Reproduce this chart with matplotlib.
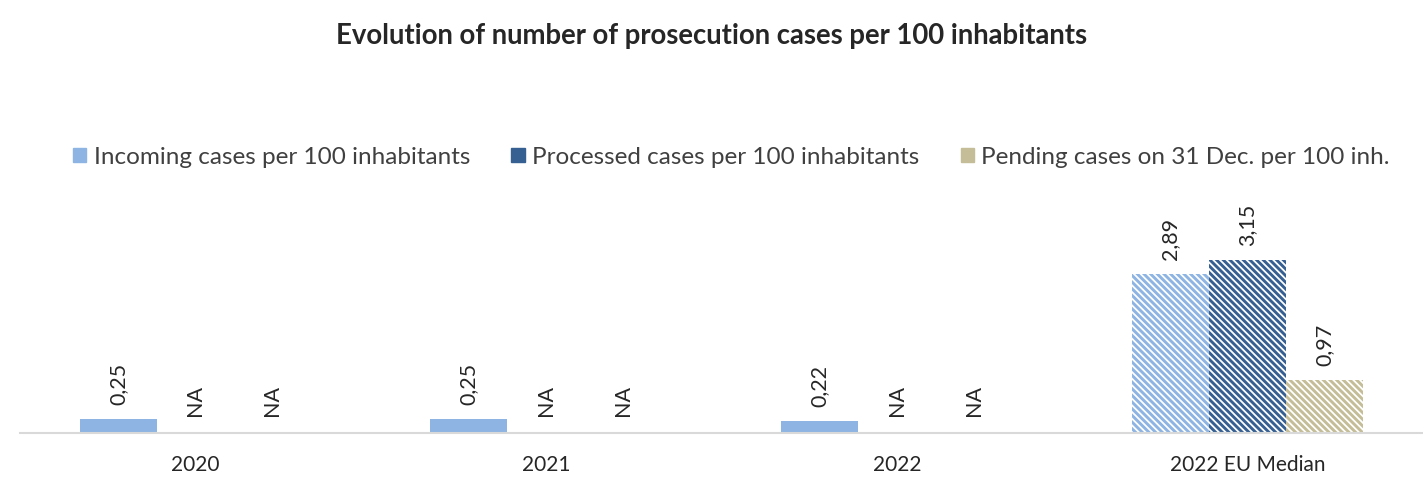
import matplotlib.pyplot as plt
import numpy as np
from matplotlib.patches import Patch

plt.rcParams['font.family'] = ['Lato', 'DejaVu Sans']
plt.rcParams['hatch.linewidth'] = 1.3

groups = ['2020', '2021', '2022', '2022 EU Median']
series = ['Incoming cases per 100 inhabitants',
          'Processed cases per 100 inhabitants',
          'Pending cases on 31 Dec. per 100 inh.']
incoming = [0.25, 0.25, 0.22, 2.89]
processed = [None, None, None, 3.15]
pending = [None, None, None, 0.97]
colors = ['#8DB4E2', '#366092', '#C4BD97']

fig = plt.figure(figsize=(14.23, 4.78), dpi=100)
ax = fig.add_axes([0.014, 0.094, 0.986, 0.46])

x = np.arange(len(groups))
w = 0.22
for i, (vals, col) in enumerate(zip([incoming, processed, pending], colors)):
    pos = x + (i - 1) * w
    for j, v in enumerate(vals):
        if v is None:
            ax.annotate('NA', (pos[j], 0), xytext=(0, 12), textcoords='offset points',
                        rotation=90, ha='center', va='bottom', fontsize=15.5, color='#262626')
            continue
        ax.bar(pos[j], v, w, color=col, lw=0)
        if groups[j].endswith('Median'):
            # white diagonal stripes over the median bars
            ax.bar(pos[j], v, w, facecolor='none', edgecolor='white', lw=0, hatch='\\' * 5)
        ax.annotate(f'{v:.2f}'.replace('.', ','), (pos[j], v), xytext=(0, 10),
                    textcoords='offset points', rotation=90, ha='center', va='bottom',
                    fontsize=15.5, color='#262626')

ax.set_xlim(-0.5, 3.5)
ax.set_ylim(0, 4)
ax.set_xticks(x)
ax.set_xticklabels(groups, fontsize=15, color='#262626')
ax.tick_params(axis='x', length=0, pad=16)
ax.set_yticks([])
for s in ['top', 'left', 'right']:
    ax.spines[s].set_visible(False)
ax.spines['bottom'].set_color('#D9D9D9')
ax.spines['bottom'].set_linewidth(1.5)

fig.text(0.5, 0.925, 'Evolution of number of prosecution cases per 100 inhabitants',
         ha='center', va='center', fontsize=19.8, fontweight='bold', color='#262626')

handles = [Patch(color=c, label=l) for c, l in zip(colors, series)]
fig.legend(handles=handles, loc='center', bbox_to_anchor=(0.514, 1 - 157 / 478), ncol=3,
           frameon=False, fontsize=17.5, handlelength=0.55, handleheight=0.55,
           handletextpad=0.3, columnspacing=1.7, labelcolor='#404040')

fig.savefig('out.png', dpi=100)
